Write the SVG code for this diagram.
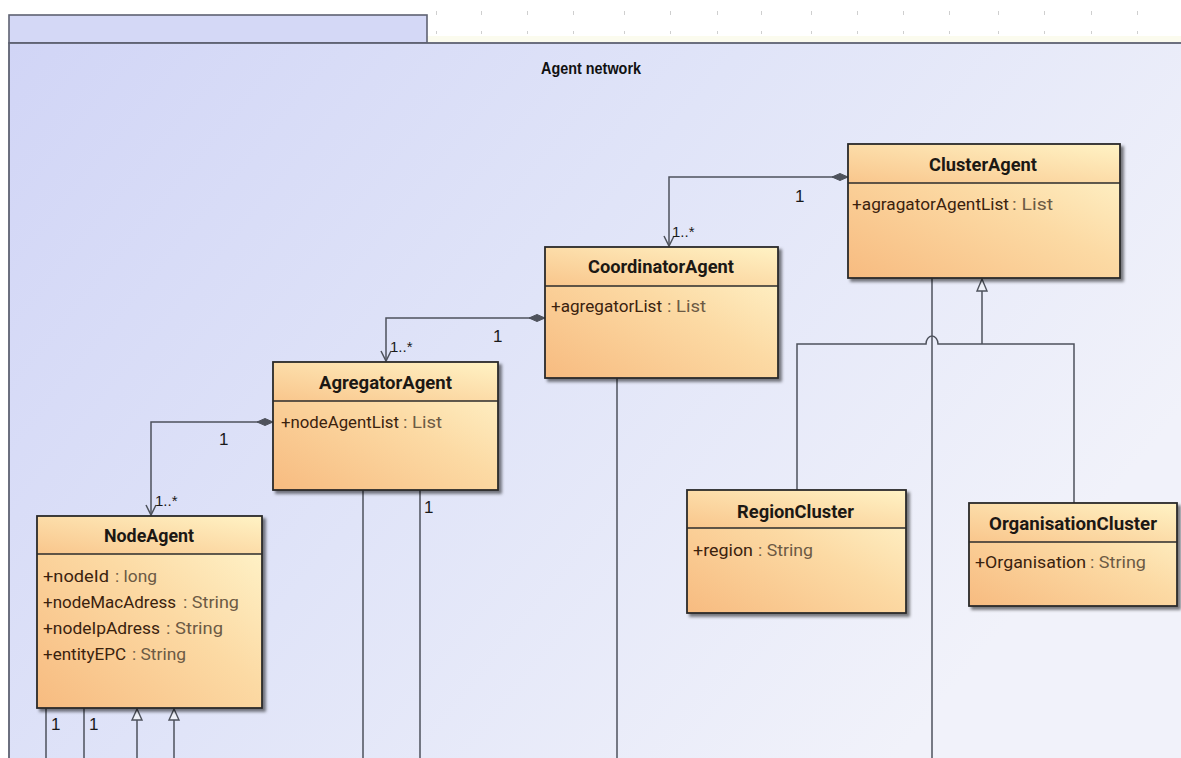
<svg xmlns="http://www.w3.org/2000/svg" width="1181" height="758" viewBox="0 0 1181 758">
<defs>
<linearGradient id="bg" x1="0" y1="0" x2="1" y2="0.5">
<stop offset="0" stop-color="#d1d5f6"/>
<stop offset="0.5" stop-color="#e0e4f8"/>
<stop offset="1" stop-color="#f1f2fa"/>
</linearGradient>
<linearGradient id="body" x1="0" y1="1" x2="1" y2="0">
<stop offset="0" stop-color="#f7bb80"/>
<stop offset="0.55" stop-color="#fcdaa4"/>
<stop offset="1" stop-color="#fff7cf"/>
</linearGradient>
<linearGradient id="head" x1="0" y1="1" x2="1" y2="0">
<stop offset="0" stop-color="#f9c68c"/>
<stop offset="1" stop-color="#fff2c4"/>
</linearGradient>
<filter id="sh" x="-10%" y="-10%" width="130%" height="130%">
<feDropShadow dx="3" dy="3" stdDeviation="1.6" flood-color="#000" flood-opacity="0.5"/>
</filter>
</defs>
<style>
.box{fill:url(#body);stroke:#2b2b2b;stroke-width:1.8}
.hd{fill:url(#head)}
.sep{stroke:#2b2b2b;stroke-width:1.6}
.ttl{font-family:Roboto,"Noto Sans",sans-serif;font-weight:bold;font-size:18px;fill:#1c1814}
.att{font-family:Roboto,"Noto Sans",sans-serif;font-size:17px;fill:#3a220e}
.ty{fill:#6c5a44}
.ln{fill:none;stroke:#4e525c;stroke-width:1.5}
.dia{fill:#4e525c;stroke:#4e525c;stroke-width:1}
.tri{fill:#eef0f8;stroke:#4e525c;stroke-width:1.4}
.mul{font-family:"Liberation Sans",Arial,sans-serif;font-size:17px;fill:#1a1a1a}
.mst{font-family:"Liberation Sans",Arial,sans-serif;font-size:15px;fill:#1a1a1a}
.dot{fill:#cfcfcf}
</style>
<rect x="0" y="0" width="1181" height="758" fill="#ffffff"/>
<g id="grid-dots">
<rect x="427" y="36" width="754" height="7" fill="#fbfbee"/>
<g class="dot">
<rect x="436" y="11" width="1" height="4"/><rect x="436" y="31" width="1" height="3"/>
<rect x="481" y="11" width="1" height="4"/><rect x="481" y="31" width="1" height="3"/>
<rect x="527" y="11" width="1" height="4"/><rect x="527" y="31" width="1" height="3"/>
<rect x="573" y="11" width="1" height="4"/><rect x="573" y="31" width="1" height="3"/>
<rect x="624" y="11" width="1" height="4"/><rect x="624" y="31" width="1" height="3"/>
<rect x="670" y="11" width="1" height="4"/><rect x="670" y="31" width="1" height="3"/>
<rect x="717" y="11" width="1" height="4"/><rect x="717" y="31" width="1" height="3"/>
<rect x="761" y="11" width="1" height="4"/><rect x="761" y="31" width="1" height="3"/>
<rect x="811" y="11" width="1" height="4"/><rect x="811" y="31" width="1" height="3"/>
<rect x="857" y="11" width="1" height="4"/><rect x="857" y="31" width="1" height="3"/>
<rect x="903" y="11" width="1" height="4"/><rect x="903" y="31" width="1" height="3"/>
<rect x="949" y="11" width="1" height="4"/><rect x="949" y="31" width="1" height="3"/>
<rect x="998" y="11" width="1" height="4"/><rect x="998" y="31" width="1" height="3"/>
<rect x="1044" y="11" width="1" height="4"/><rect x="1044" y="31" width="1" height="3"/>
<rect x="1091" y="11" width="1" height="4"/><rect x="1091" y="31" width="1" height="3"/>
<rect x="1137" y="11" width="1" height="4"/><rect x="1137" y="31" width="1" height="3"/>
</g>
</g>
<g id="frame">
<rect x="9" y="15" width="418" height="28" fill="#d4d8f6" stroke="#5e6272" stroke-width="1.6"/>
<rect x="9" y="43" width="1180" height="720" fill="url(#bg)" stroke="#5e6272" stroke-width="1.8"/>
<text x="541" y="74" font-family="Liberation Sans,Arial,sans-serif" font-weight="bold" font-size="17px" fill="#111" textLength="100" lengthAdjust="spacingAndGlyphs">Agent network</text>
</g>
<g id="connectors">
<path class="ln" d="M848 177 H669 V246"/>
<polygon class="dia" points="848,177 840,173.5 832,177 840,180.5"/>
<polyline class="ln" points="664,236 669,246 674,236"/>
<text class="mul" x="795" y="202">1</text>
<text class="mst" x="672" y="237">1..*</text>

<path class="ln" d="M545 318 H386 V361"/>
<polygon class="dia" points="545,318 537,314.5 529,318 537,321.5"/>
<polyline class="ln" points="381,351 386,361 391,351"/>
<text class="mul" x="493" y="342">1</text>
<text class="mst" x="390" y="352">1..*</text>

<path class="ln" d="M273 422 H151 V515"/>
<polygon class="dia" points="273,422 265,418.5 257,422 265,425.5"/>
<polyline class="ln" points="146,505 151,515 156,505"/>
<text class="mul" x="219" y="445">1</text>
<text class="mst" x="155" y="506">1..*</text>

<path class="ln" d="M46 708 V758 M84 708 V758 M137 720 V758 M174 720 V758"/>
<polygon class="tri" points="137,709 132,720 142,720"/>
<polygon class="tri" points="174,709 169,720 179,720"/>
<text class="mul" x="51" y="730">1</text>
<text class="mul" x="89" y="730">1</text>

<path class="ln" d="M363 490 V758 M420 490 V758"/>
<text class="mul" x="424" y="513">1</text>

<path class="ln" d="M617 378 V758"/>

<path class="ln" d="M932 278 V758"/>
<path class="ln" d="M982 291 V344"/>
<polygon class="tri" points="982,279 977,291 987,291"/>
<path class="ln" d="M797 490 V344 H926 A6 8 0 0 1 938 344 H1074 V503"/>
</g>
<g id="ClusterAgent">
<rect class="box" x="848" y="144" width="272" height="134" filter="url(#sh)"/>
<rect class="hd" x="849" y="145" width="270" height="38"/>
<line class="sep" x1="848" y1="183" x2="1120" y2="183"/>
<text class="ttl" x="929" y="171" textLength="108" lengthAdjust="spacingAndGlyphs">ClusterAgent</text>
<text class="att" x="852" y="210" textLength="157" lengthAdjust="spacingAndGlyphs">+agragatorAgentList</text>
<text class="att ty" x="1012" y="210" textLength="41" lengthAdjust="spacingAndGlyphs">: List</text>
</g>
<g id="CoordinatorAgent">
<rect class="box" x="545" y="247" width="233" height="131" filter="url(#sh)"/>
<rect class="hd" x="546" y="248" width="231" height="38"/>
<line class="sep" x1="545" y1="286" x2="778" y2="286"/>
<text class="ttl" x="588" y="273" textLength="146" lengthAdjust="spacingAndGlyphs">CoordinatorAgent</text>
<text class="att" x="551" y="312" textLength="111" lengthAdjust="spacingAndGlyphs">+agregatorList</text>
<text class="att ty" x="667" y="312" textLength="39" lengthAdjust="spacingAndGlyphs">: List</text>
</g>
<g id="AgregatorAgent">
<rect class="box" x="273" y="362" width="225" height="128" filter="url(#sh)"/>
<rect class="hd" x="274" y="363" width="223" height="38"/>
<line class="sep" x1="273" y1="401" x2="498" y2="401"/>
<text class="ttl" x="319" y="389" textLength="133" lengthAdjust="spacingAndGlyphs">AgregatorAgent</text>
<text class="att" x="281" y="428" textLength="118" lengthAdjust="spacingAndGlyphs">+nodeAgentList</text>
<text class="att ty" x="403" y="428" textLength="39" lengthAdjust="spacingAndGlyphs">: List</text>
</g>
<g id="NodeAgent">
<rect class="box" x="37" y="516" width="225" height="192" filter="url(#sh)"/>
<rect class="hd" x="38" y="517" width="223" height="37"/>
<line class="sep" x1="37" y1="554" x2="262" y2="554"/>
<text class="ttl" x="104" y="542" textLength="90" lengthAdjust="spacingAndGlyphs">NodeAgent</text>
<text class="att" x="43" y="582" textLength="66" lengthAdjust="spacingAndGlyphs">+nodeId</text>
<text class="att ty" x="115" y="582" textLength="42" lengthAdjust="spacingAndGlyphs">: long</text>
<text class="att" x="43" y="608" textLength="133" lengthAdjust="spacingAndGlyphs">+nodeMacAdress</text>
<text class="att ty" x="183" y="608" textLength="56" lengthAdjust="spacingAndGlyphs">: String</text>
<text class="att" x="43" y="634" textLength="117" lengthAdjust="spacingAndGlyphs">+nodeIpAdress</text>
<text class="att ty" x="166" y="634" textLength="57" lengthAdjust="spacingAndGlyphs">: String</text>
<text class="att" x="43" y="660" textLength="83" lengthAdjust="spacingAndGlyphs">+entityEPC</text>
<text class="att ty" x="132" y="660" textLength="54" lengthAdjust="spacingAndGlyphs">: String</text>
</g>
<g id="RegionCluster">
<rect class="box" x="687" y="490" width="219" height="123" filter="url(#sh)"/>
<rect class="hd" x="688" y="491" width="217" height="37"/>
<line class="sep" x1="687" y1="528" x2="906" y2="528"/>
<text class="ttl" x="737" y="518" textLength="117" lengthAdjust="spacingAndGlyphs">RegionCluster</text>
<text class="att" x="693" y="556" textLength="60" lengthAdjust="spacingAndGlyphs">+region</text>
<text class="att ty" x="758" y="556" textLength="55" lengthAdjust="spacingAndGlyphs">: String</text>
</g>
<g id="OrganisationCluster">
<rect class="box" x="969" y="503" width="208" height="103" filter="url(#sh)"/>
<rect class="hd" x="970" y="504" width="206" height="38"/>
<line class="sep" x1="969" y1="542" x2="1177" y2="542"/>
<text class="ttl" x="989" y="530" textLength="168" lengthAdjust="spacingAndGlyphs">OrganisationCluster</text>
<text class="att" x="975" y="568" textLength="111" lengthAdjust="spacingAndGlyphs">+Organisation</text>
<text class="att ty" x="1090" y="568" textLength="56" lengthAdjust="spacingAndGlyphs">: String</text>
</g>
</svg>
